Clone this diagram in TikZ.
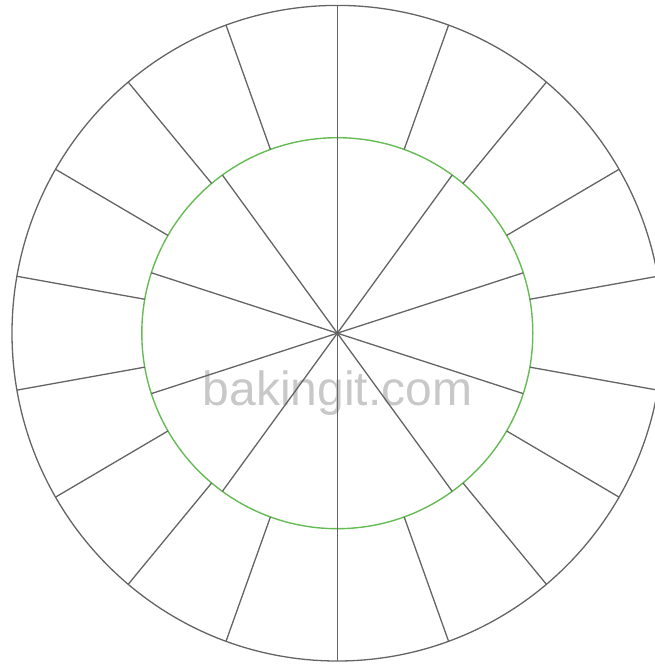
\documentclass[tikz,border=0pt]{standalone}
\usepackage{fontspec}
\setmainfont{Liberation Sans}
\definecolor{spokegray}{RGB}{100,100,100}
\definecolor{ringgreen}{RGB}{102,187,85}
\definecolor{markgray}{RGB}{200,200,200}
\tikzset{
  spoke/.style={draw=spokegray,line width=1.3pt},
  ring/.style={draw=ringgreen,line width=1.4pt},
  watermark/.style={text=markgray,font=\fontsize{48}{48}\selectfont,inner sep=0pt,anchor=base}
}
\begin{document}
\begin{tikzpicture}[x=1pt,y=-1pt]
\useasboundingbox (0,0) rectangle (655,664);
\clip (0,0) rectangle (655,664);
\coordinate (c) at (337.3,333.2);
\node[watermark] (wm) at (337.5,405) {bakingit.com};
\draw[ring] (c) circle [radius=195.5pt];
\draw[spoke] (c) ellipse [x radius=325.3pt, y radius=327.8pt];
\foreach \a in {18,54,...,342}
  \draw[spoke] (c) -- ([shift={(c)}]\a:195.5pt);
\foreach \a in {10,30,...,350}
  \draw[spoke] ([shift={(c)}]\a:195.5pt) -- ([shift={(c)}]\a:325.3pt and 327.8pt);
\end{tikzpicture}
\end{document}
